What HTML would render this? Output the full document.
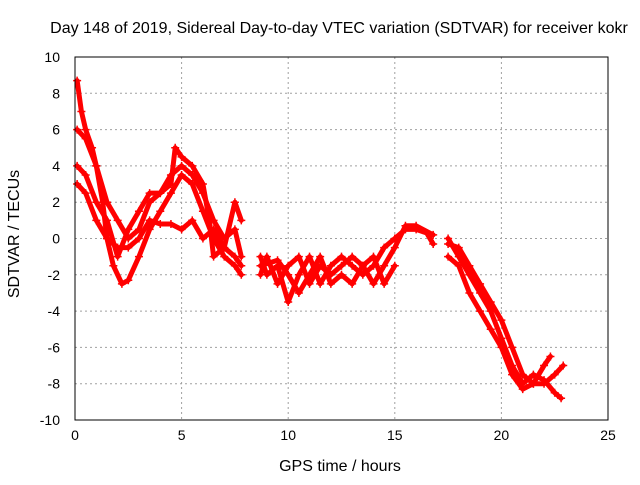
<!DOCTYPE html>
<html><head><meta charset="utf-8"><style>
body{margin:0;background:#fff}
svg text{font-family:"Liberation Sans",sans-serif;font-size:14px;fill:#000}
svg text.big{font-size:16px}
</style></head><body>
<svg id="chart" width="640" height="480">
<text class="big" x="339" y="33" text-anchor="middle">Day 148 of 2019, Sidereal Day-to-day VTEC variation (SDTVAR) for receiver kokr</text>
<text class="big" x="340" y="471" text-anchor="middle">GPS time / hours</text>
<text class="big" transform="translate(19,234) rotate(-90)" text-anchor="middle">SDTVAR / TECUs</text>
<g id="grid"></g><g id="marks"></g>
<rect x="75" y="57" width="533" height="363" fill="none" stroke="#000"/>
</svg>
<script>
const xTicks=[0,5,10,15,20,25];
const yTicks=[-10,-8,-6,-4,-2,0,2,4,6,8,10];
const trackA=[[0.1,8.7],[0.3,7],[0.5,6],[0.8,5],[1.0,4],[1.3,2],[1.5,0],[1.8,-1.5],[2.2,-2.5],[2.5,-2.3],[3,-1],[3.5,0.5],[4,1.5],[4.5,2.5],[5,3.5],[5.5,3],[6,1.5],[6.5,0],[7,-1],[7.5,-1.5],[7.8,-2]];
const trackB=[[0.1,6],[0.5,5.5],[1,4],[1.5,2],[2,1],[2.5,0],[3,0.5],[3.5,2],[4,2.5],[4.5,3.5],[5,4],[5.5,3.5],[6,2.5],[6.5,1],[7,0],[7.5,0.5],[7.8,-1]];
const trackC=[[0.1,4],[0.5,3.5],[1,2],[1.5,1],[2,-1],[2.5,0.5],[3,1.5],[3.5,2.5],[4,2.5],[4.5,3],[4.7,5],[5,4.5],[5.5,4],[6,3],[6.3,1],[6.5,-1],[7,-0.5],[7.5,2],[7.8,1]];
const trackD=[[0.1,3],[0.5,2.5],[1,1],[1.5,0],[2,-0.5],[2.5,-0.5],[3,0],[3.5,1],[4,0.8],[4.5,0.8],[5,0.5],[5.5,1],[6,0],[6.5,0.5],[7,-0.5],[7.5,-1],[7.8,-1.5]];
const trackE=[[8.7,-1],[9,-2],[9.5,-1.5],[10,-3.5],[10.5,-2],[11,-1],[11.5,-2.5],[12,-1.5],[12.5,-1],[13,-1.5],[13.5,-2],[14,-1.5],[14.5,-0.5],[15,0],[15.5,0.5],[16,0.5],[16.5,0.3],[16.8,-0.3]];
const trackF=[[8.7,-2],[9,-1],[9.5,-2.5],[10,-1.5],[10.5,-1],[11,-2.5],[11.5,-1.5],[12,-2],[12.5,-1.5],[13,-1],[13.5,-1.5],[14,-2.5],[14.5,-1.5],[15,-0.5],[15.5,0.7],[16,0.7],[16.8,0.2]];
const trackG=[[8.7,-1.5],[9.5,-1.2],[10,-2],[10.5,-3],[11,-2],[11.5,-1],[12,-2.5],[12.5,-2],[13,-2.5],[13.5,-1.5],[14,-1],[14.5,-2.5],[15,-1.5]];
const trackH=[[17.5,-0.3],[18,-0.5],[18.5,-1.5],[19,-2.5],[19.5,-3.5],[20,-4.5],[20.5,-6],[21,-7.5],[21.5,-8],[22,-8],[22.5,-7.5],[22.9,-7]];
const trackI=[[17.5,-1],[18,-1.5],[18.5,-3],[19,-4],[19.5,-5],[20,-6],[20.5,-7.5],[21,-8.3],[21.5,-8],[22,-7],[22.3,-6.5]];
const trackJ=[[17.5,0],[18,-1],[18.5,-2],[19,-3],[19.5,-4],[20,-5.5],[20.5,-7],[21,-8],[21.5,-7.5],[22,-7.8],[22.5,-8.5],[22.8,-8.8]];
const tracks=[trackA,trackB,trackC,trackD,trackE,trackF,trackG,trackH,trackI,trackJ];
const NS='http://www.w3.org/2000/svg';
const X=v=>75+v*533/25, Y=v=>238.5-v*363/20;
const grid=document.getElementById('grid'), marks=document.getElementById('marks'), svg=document.getElementById('chart');
function mk(tag,at,parent){const e=document.createElementNS(NS,tag);for(const k in at)e.setAttribute(k,at[k]);parent.appendChild(e);return e;}
xTicks.forEach(t=>{
 if(t>0&&t<25){const g=mk('line',{x1:X(t),x2:X(t),y1:57,y2:420,stroke:'#a0a0a0','stroke-dasharray':'2,3'},grid);
 
 }
 const tk=mk('text',{x:X(t),y:440,'text-anchor':'middle'},svg);tk.textContent=t;
 
 
});
yTicks.forEach(t=>{
 if(t>-10&&t<10){const g=mk('line',{x1:75,x2:608,y1:Y(t),y2:Y(t),stroke:'#a0a0a0','stroke-dasharray':'2,3'},grid);
 
 }
 const tk=mk('text',{x:60,y:Y(t)+5,'text-anchor':'end'},svg);tk.textContent=t;
 
 
});
tracks.forEach((tr,i)=>{
 const p=mk('polyline',{points:tr.map(d=>X(d[0])+','+Y(d[1])).join(' '),fill:'none',stroke:'#f00','stroke-width':5,'stroke-linejoin':'round','stroke-linecap':'round'},marks);
 
 
 tr.forEach(d=>{
  const m=mk('path',{d:`M${X(d[0])-4},${Y(d[1])}h8M${X(d[0])},${Y(d[1])-4}v8`,stroke:'#f00','stroke-width':1.5},marks);
  
  
 });
});
</script>
</body></html>
